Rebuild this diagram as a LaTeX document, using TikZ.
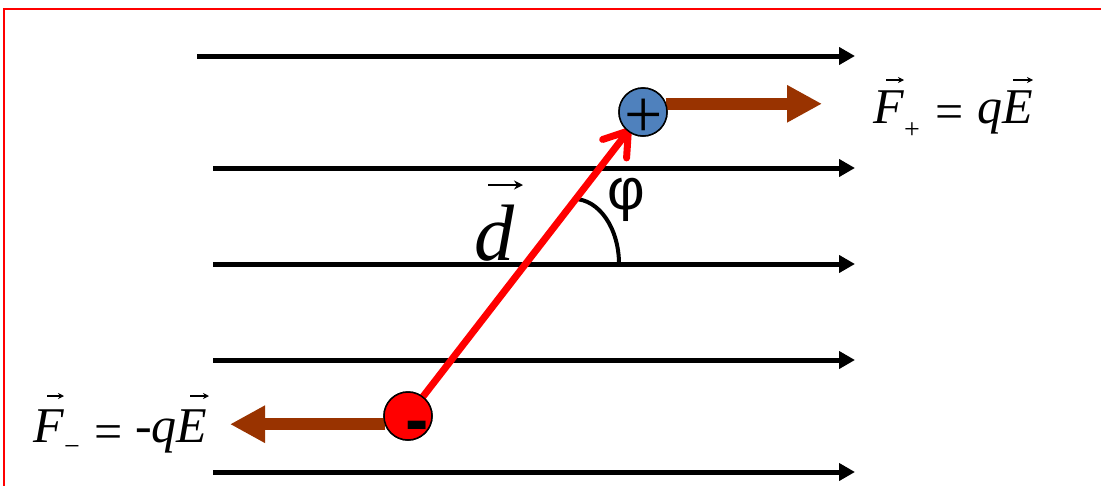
\documentclass[tikz,border=0pt]{standalone}
\usepackage{fontspec}
\setmainfont{Liberation Serif}
\newfontfamily\sansf{Liberation Sans}
\usetikzlibrary{arrows.meta,calc}
\definecolor{chargeblue}{RGB}{79,129,189}
\definecolor{forcebrown}{RGB}{153,51,0}
\begin{document}
\begin{tikzpicture}[x=1pt,y=-1pt,
  fieldline/.style={line width=5pt,-{Triangle[length=16pt,width=17pt]}},
  force/.style={line width=12pt,forcebrown,-{Triangle[length=35pt,width=35pt]}},
  dvec/.style={line width=7pt,red,line cap=round,line join=round},
  charge/.style={circle,draw=black,line width=1.5pt,minimum size=48pt,inner sep=0pt,outer sep=0pt},
  formula/.style={inner sep=0pt,anchor=base west,font=\fontsize{50}{50}\selectfont},
  vecacc/.style={line width=1.4pt,-{Stealth[length=6pt,width=6pt]}},
  bigvecacc/.style={line width=2.2pt,-{Stealth[length=9pt,width=9pt]}}
]
\useasboundingbox (0,0) rectangle (1101,485);
\clip (0,0) rectangle (1101,485);
% frame
\draw[red,line width=2pt] (4,520) -- (4,9) -- (1130,9);
% field lines
\coordinate (a1) at (197,56);  \coordinate (b1) at (855,56);
\coordinate (a2) at (213,168); \coordinate (b2) at (855,168);
\coordinate (a3) at (213,264); \coordinate (b3) at (855,264);
\coordinate (a4) at (213,360); \coordinate (b4) at (855,360);
\coordinate (a5) at (213,472); \coordinate (b5) at (855,472);
\foreach \i in {1,...,5}{\draw[fieldline] (a\i) -- (b\i);}
% angle arc
\coordinate (arcstart) at (574,199);
\draw[line width=4pt] (arcstart) arc[start angle=90,end angle=0,x radius=45pt,y radius=65pt];
% charge positions
\node[charge] (plus) at (643,112) {};
\node[charge] (minus) at (408,416) {};
% dipole vector
\coordinate (tipc) at ($(plus)!24pt!(minus)$);
\draw[dvec] (minus) -- (tipc);
\draw[dvec] ($(tipc)!27pt!34:(minus)$) -- (tipc) -- ($(tipc)!27pt!-34:(minus)$);
% forces
\coordinate (fpend) at (822,0);
\coordinate (fmend) at (230,0);
\draw[force] (plus.20) -- (plus.20 -| fpend);
\draw[force] (minus.200) -- (minus.200 -| fmend);
% charges drawn on top
\node[charge,fill=chargeblue] at (plus) {};
\node[charge,fill=red] at (minus) {};
\node[inner sep=0pt,anchor=north,font=\fontsize{68}{68}\selectfont] (plussign) at (644,99) {+};
\node[inner sep=0pt,anchor=north,font=\sansf\bfseries\fontsize{70}{70}\selectfont] (minussign) at (417,421) {-};
% labels
\node[inner sep=0pt,anchor=base west,font=\fontsize{80}{80}\selectfont\itshape] (dlabel) at (474,260) {d};
\draw[bigvecacc] ([shift={(14,-75)}]dlabel.base west) -- ++(35,0);
\node[inner sep=0pt,font=\sansf\fontsize{58}{58}\selectfont] (philabel) at (626,200) {φ};
\node[formula] (fplus) at (873,123) {\textit{F}\raisebox{-15pt}{\fontsize{28}{28}\selectfont +}\hspace{16pt}\raisebox{-5pt}{=}\hspace{13pt}\textit{q}\textit{E}};
\draw[vecacc] ([shift={(13,-43)}]fplus.base west) -- ++(18,0);
\draw[vecacc] ([shift={(140,-43)}]fplus.base west) -- ++(20,0);
\node[formula] (fminus) at (33,442) {\textit{F}\raisebox{-13pt}{\fontsize{28}{28}\selectfont −}\hspace{15pt}\raisebox{-6pt}{=}\hspace{12pt}-\textit{q}\textit{E}};
\draw[vecacc] ([shift={(14,-46)}]fminus.base west) -- ++(17,0);
\draw[vecacc] ([shift={(157,-46)}]fminus.base west) -- ++(19,0);
\end{tikzpicture}
\end{document}
